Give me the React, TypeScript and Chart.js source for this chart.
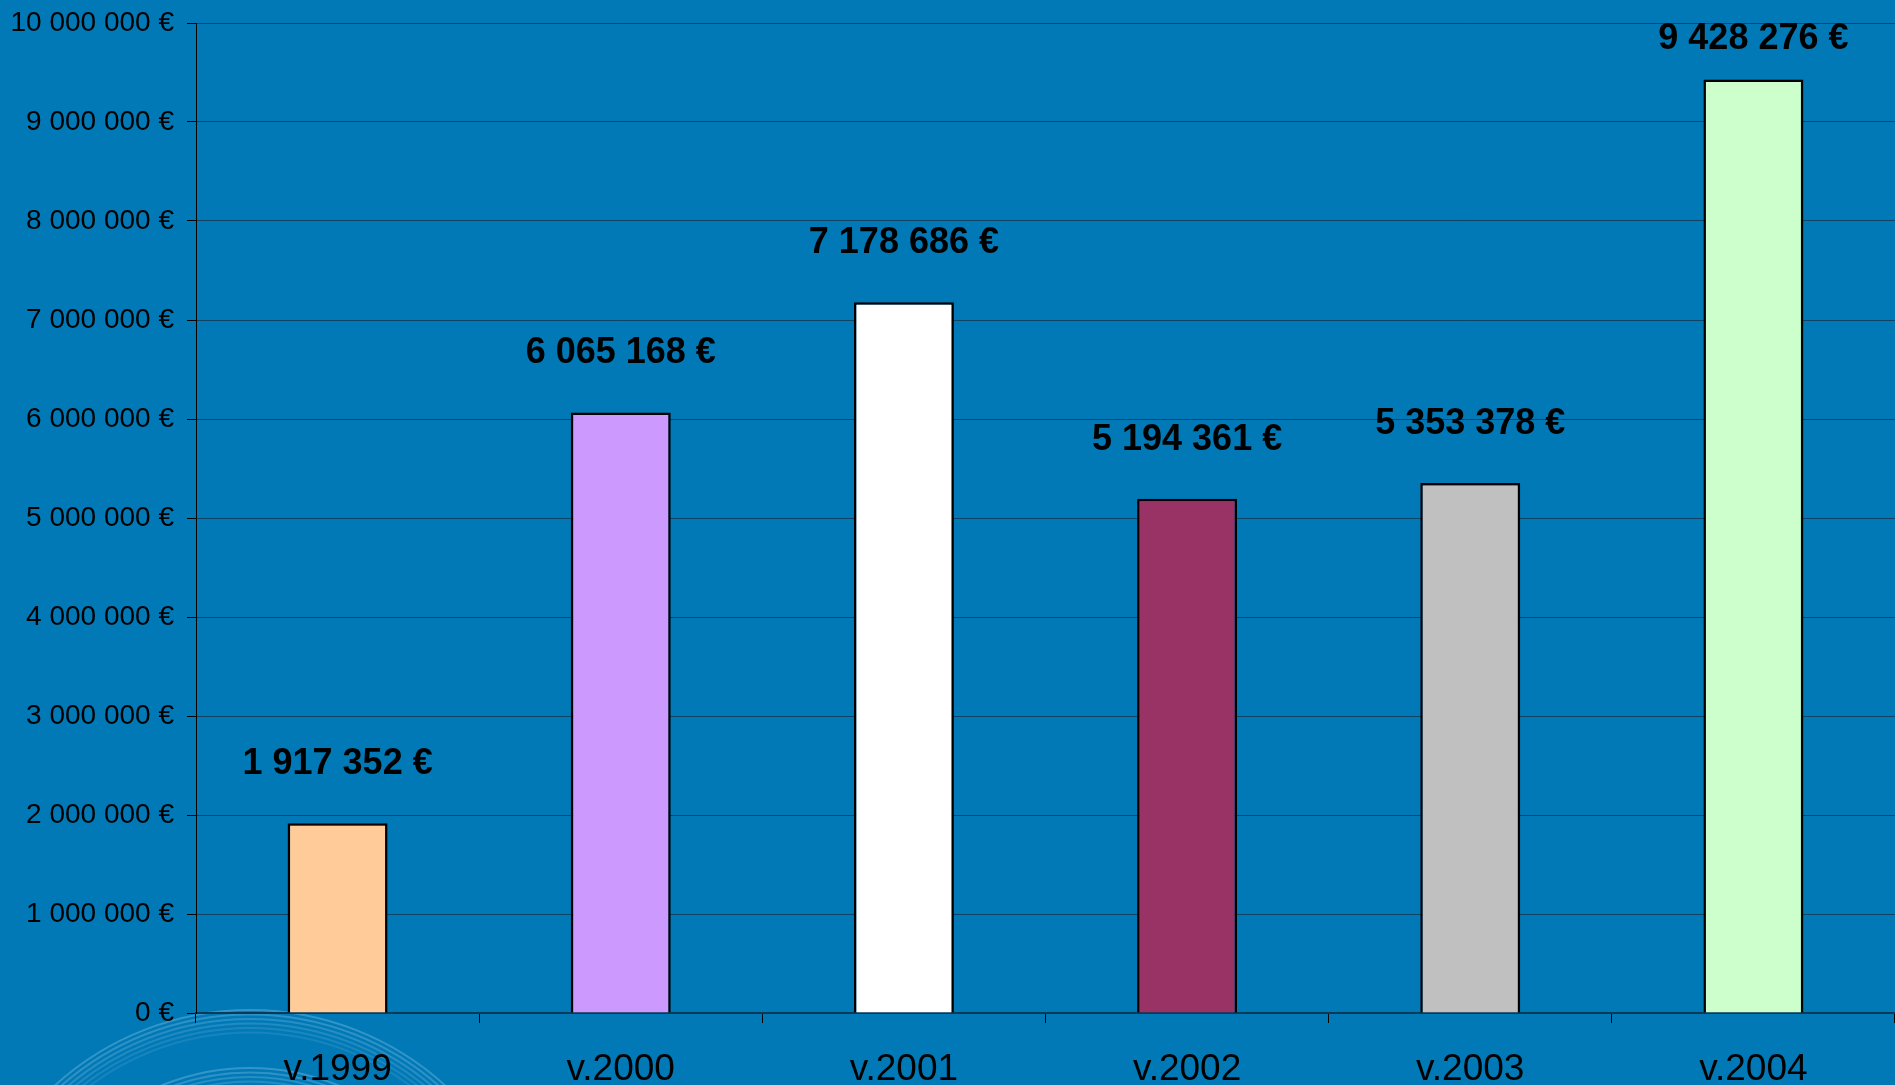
import React, { useEffect, useRef } from "react";
import { Chart, registerables } from "chart.js";

Chart.register(...registerables);

const categories = ["v.1999", "v.2000", "v.2001", "v.2002", "v.2003", "v.2004"];
const values = [1917352, 6065168, 7178686, 5194361, 5353378, 9428276];
const barColors = ["#FFCC99", "#CC99FF", "#FFFFFF", "#993366", "#C0C0C0", "#CCFFCC"];
const yMax = 10000000;
const yStep = 1000000;

const BG = "#0079B6";
const FONT = "'Liberation Sans', Arial, sans-serif";

function fmt(v: number): string {
  const s = Math.round(v).toString();
  return s.replace(/\B(?=(\d{3})+(?!\d))/g, " ") + " €";
}

const bgPlugin = {
  id: "bgPlugin",
  beforeDraw(chart: any) {
    const { ctx, width, height } = chart;
    ctx.save();
    ctx.fillStyle = BG;
    ctx.fillRect(0, 0, width, height);
    const cx = 250;
    const cy = 1300;
    const bundles = [290, 232];
    ctx.lineWidth = 2;
    bundles.forEach((r0) => {
      for (let i = 0; i < 6; i++) {
        ctx.beginPath();
        ctx.strokeStyle = `rgba(200,230,250,${0.26 - i * 0.03})`;
        ctx.arc(cx, cy, r0 - i * 4.5, Math.PI, 2 * Math.PI);
        ctx.stroke();
      }
    });
    ctx.restore();
  },
};

const labelPlugin = {
  id: "labelPlugin",
  afterDatasetsDraw(chart: any) {
    const { ctx } = chart;
    const meta = chart.getDatasetMeta(0);
    ctx.save();
    ctx.font = `bold 36px ${FONT}`;
    ctx.fillStyle = "#000";
    ctx.textAlign = "center";
    ctx.textBaseline = "middle";
    meta.data.forEach((bar: any, i: number) => {
      const y = Math.max(bar.y - 59, 39);
      ctx.fillText(fmt(values[i]), bar.x, y);
    });
    ctx.restore();
  },
};

export default function App() {
  const ref = useRef<HTMLCanvasElement>(null);
  useEffect(() => {
    document.body.style.margin = "0";
    const chart = new Chart(ref.current as HTMLCanvasElement, {
      type: "bar",
      data: {
        labels: categories,
        datasets: [
          {
            data: values,
            backgroundColor: barColors,
            borderColor: "#000",
            borderWidth: 2.5,
            barPercentage: 0.353,
            categoryPercentage: 1,
          },
        ],
      },
      options: {
        animation: false,
        responsive: true,
        maintainAspectRatio: false,
        layout: { padding: { top: 23, right: 0, left: 0, bottom: 0 } },
        plugins: { legend: { display: false }, tooltip: { enabled: false } },
        scales: {
          x: {
            afterFit(scale: any) {
              scale.height = 72;
              scale.paddingLeft = 0;
              scale.paddingRight = 0;
            },
            grid: {
              drawOnChartArea: false,
              drawTicks: true,
              tickLength: 10,
              color: "#000",
              offset: true,
            },
            border: { display: true, color: "#0b3a58", width: 2 },
            ticks: {
              color: "#000",
              font: { family: FONT, size: 37 },
              padding: 25,
              maxRotation: 0,
              autoSkip: false,
            },
          },
          y: {
            min: 0,
            max: yMax,
            afterFit(scale: any) {
              scale.width = 196;
              scale.paddingTop = 0;
              scale.paddingBottom = 0;
            },
            grid: {
              color: "#0d4466",
              lineWidth: 1,
              tickLength: 9,
              tickColor: "#000",
            },
            border: { display: true, color: "#000", width: 1 },
            ticks: {
              stepSize: yStep,
              color: "#000",
              font: { family: FONT, size: 28 },
              padding: 13,
              callback: (v: any) => fmt(Number(v)),
            },
          },
        },
      },
      plugins: [bgPlugin, labelPlugin],
    });
    return () => chart.destroy();
  }, []);
  return (
    <div style={{ position: "fixed", left: 0, top: 0, width: 1895, height: 1085 }}>
      <canvas ref={ref} />
    </div>
  );
}
